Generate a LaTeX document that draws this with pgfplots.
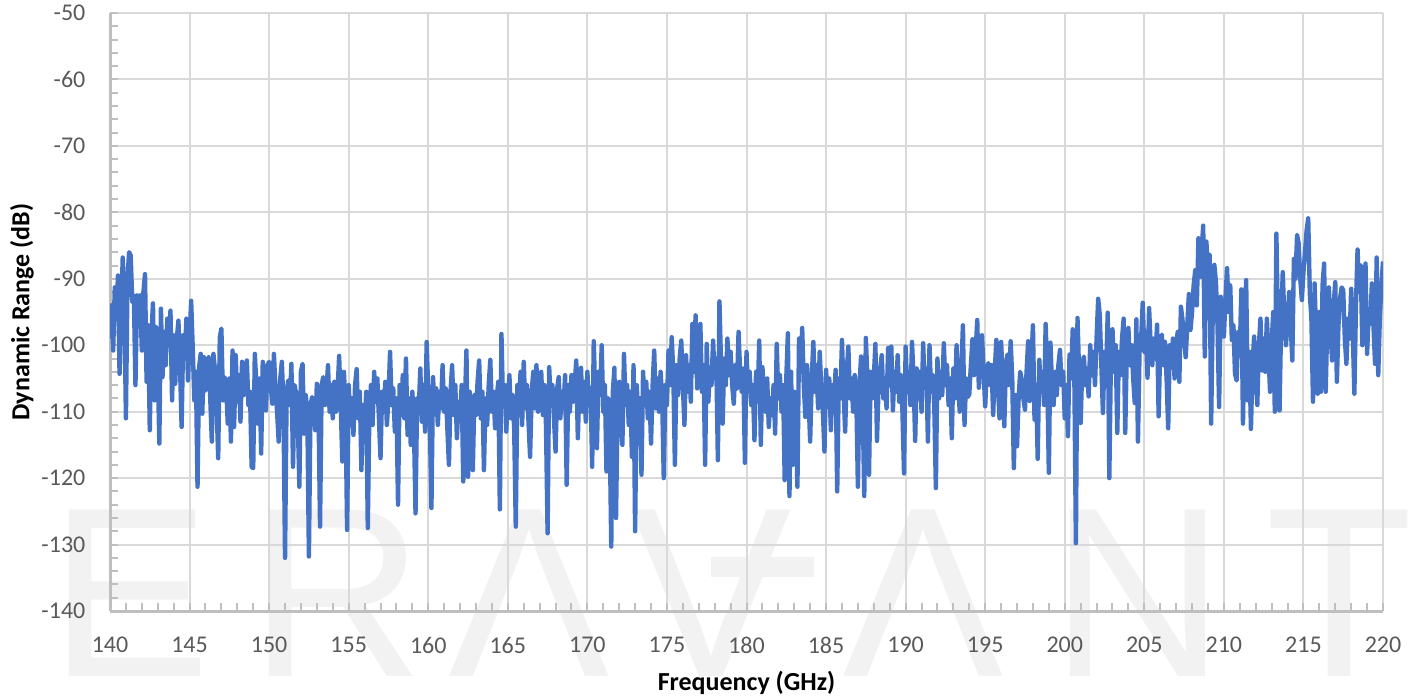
\documentclass[border=0pt]{standalone}
\usepackage{fontspec}
\setmainfont{Carlito}
\newfontfamily\wmfont{Liberation Sans}
\usepackage{pgfplots}
\pgfplotsset{compat=1.18}
\definecolor{lineblue}{HTML}{4472C4}
\definecolor{gridgray}{HTML}{D9D9D9}
\definecolor{axgray}{HTML}{BFBFBF}
\definecolor{ticktext}{HTML}{595959}
\definecolor{wm}{HTML}{F2F2F2}
\begin{document}
\begin{tikzpicture}
\begin{axis}[
  set layers, clip mode=individual,
  scale only axis, width=636.5pt, height=299pt,
  xmin=140, xmax=220, ymin=-140, ymax=-50,
  xtick={140,145,...,220}, ytick={-140,-130,...,-50},
  minor x tick num=4, minor y tick num=4,
  grid=major, major grid style={gridgray, line width=1pt},
  axis lines=left, axis line style={axgray, line width=1.5pt, -},
  tick align=inside, major tick length=4pt, minor tick length=4pt,
  every tick/.style={axgray, line width=1pt},
  /pgf/number format/assume math mode=true,
  ticklabel style={font=\fontsize{12}{14}\selectfont, text=ticktext},
  xticklabel style={yshift=-9.5pt},
  yticklabel style={xshift=-8.8pt},
  xlabel={Frequency (GHz)}, ylabel={Dynamic Range (dB)},
  label style={font=\bfseries\fontsize{13}{15}\selectfont, text=black},
  xlabel style={at={(axis description cs:0.5,-0.1204)}, anchor=center},
  ylabel style={at={(axis description cs:-0.0691,0.5)}, anchor=center, rotate=0},
]
\coordinate (sw) at (axis cs:140,-140);
\begin{pgfonlayer}{axis background}
\begin{scope}[every node/.style={anchor=base west, inner sep=0pt, text=wm, font=\wmfont\fontsize{121}{121}\selectfont}]
\node at (axis cs:136.15,-149.93) {E};
\node at (axis cs:148.74,-149.93) {R};
\node at (axis cs:161.24,-149.93) {Λ};
\node at (axis cs:172.68,-149.93) {V};
\fill[wm] (axis cs:177.77,-134.88) rectangle (axis cs:184.24,-131.87);
\node at (axis cs:186.0,-149.93) {Λ};
\node at (axis cs:199.07,-149.93) {N};
\node at (axis cs:212.6,-149.93) {T};
\end{scope}
\end{pgfonlayer}
\addplot[lineblue, line width=2.2pt, line join=round, no markers] coordinates {
(140.0,-99) (140.1,-94) (140.2,-100.8) (140.3,-91.3) (140.4,-96) (140.5,-89.5) (140.6,-104.3) (140.7,-95) (140.8,-86.8) (140.9,-93)
(141.0,-111) (141.1,-90) (141.2,-86) (141.3,-86.5) (141.4,-93.5) (141.5,-92.5) (141.6,-106) (141.7,-92.5) (141.8,-96.5) (141.9,-92.5)
(142.0,-100.8) (142.1,-92) (142.2,-89.3) (142.3,-105.5) (142.4,-97) (142.5,-112.8) (142.6,-98.5) (142.7,-93.7) (142.8,-108.3) (142.9,-97.3)
(143.0,-103) (143.1,-114.8) (143.2,-94.5) (143.3,-104.8) (143.4,-98) (143.5,-103) (143.6,-96) (143.7,-100) (143.8,-94.8) (143.9,-108.3)
(144.0,-98.5) (144.1,-105.8) (144.2,-99) (144.3,-96.3) (144.4,-103) (144.5,-112.3) (144.6,-98.5) (144.7,-102) (144.8,-96) (144.9,-105.3)
(145.0,-99) (145.1,-93.3) (145.2,-100.5) (145.3,-108.3) (145.4,-104) (145.5,-121.3) (145.6,-103.3) (145.7,-101.3) (145.8,-110.3) (145.9,-101.8)
(146.0,-106.8) (146.1,-104) (146.2,-101.8) (146.3,-108) (146.4,-114.5) (146.5,-101.3) (146.6,-103.8) (146.7,-109) (146.8,-117) (146.9,-98.8)
(147.0,-97.5) (147.1,-108.3) (147.2,-104.8) (147.3,-106) (147.4,-111.8) (147.5,-105) (147.6,-114.5) (147.7,-100.8) (147.8,-112.3) (147.9,-101.5)
(148.0,-108.5) (148.1,-104.5) (148.2,-111.5) (148.3,-102.5) (148.4,-107.5) (148.5,-104) (148.6,-102.3) (148.7,-109) (148.8,-107) (148.9,-118.3)
(149.0,-118.5) (149.1,-101.3) (149.2,-106) (149.3,-111.8) (149.4,-105) (149.5,-116.3) (149.6,-102.5) (149.7,-107) (149.8,-109.8) (149.9,-103)
(150.0,-102.5) (150.1,-106) (150.2,-108.8) (150.3,-101.3) (150.4,-106.5) (150.5,-110) (150.6,-114.5) (150.7,-105) (150.8,-102.5) (150.9,-109)
(151.0,-132) (151.1,-107) (151.2,-105.3) (151.3,-109) (151.4,-102.8) (151.5,-118.3) (151.6,-106) (151.7,-107.3) (151.8,-111) (151.9,-121.3)
(152.0,-104) (152.1,-102.8) (152.2,-113.3) (152.3,-107.5) (152.4,-110) (152.5,-131.8) (152.6,-109) (152.7,-107.8) (152.8,-110) (152.9,-112.8)
(153.0,-105.8) (153.1,-109) (153.2,-127.3) (153.3,-106) (153.4,-104.8) (153.5,-109) (153.6,-107) (153.7,-103) (153.8,-110) (153.9,-106)
(154.0,-111) (154.1,-105.5) (154.2,-110) (154.3,-107) (154.4,-101.6) (154.5,-109) (154.6,-117.5) (154.7,-104) (154.8,-109) (154.9,-127.8)
(155.0,-106) (155.1,-112) (155.2,-108) (155.3,-113.5) (155.4,-106) (155.5,-103.6) (155.6,-111) (155.7,-107) (155.8,-118.8) (155.9,-109)
(156.0,-113) (156.1,-107) (156.2,-127.5) (156.3,-110) (156.4,-106) (156.5,-112) (156.6,-104) (156.7,-108.5) (156.8,-105) (156.9,-111)
(157.0,-117) (157.1,-107) (157.2,-110) (157.3,-105.5) (157.4,-112) (157.5,-108) (157.6,-101) (157.7,-109) (157.8,-106.5) (157.9,-113)
(158.0,-108) (158.1,-124) (158.2,-106) (158.3,-110.5) (158.4,-104.5) (158.5,-111) (158.6,-102) (158.7,-113.5) (158.8,-108) (158.9,-115)
(159.0,-107) (159.1,-112) (159.2,-125.3) (159.3,-108) (159.4,-110) (159.5,-103.5) (159.6,-111.5) (159.7,-106) (159.8,-113) (159.9,-99.5)
(160.0,-107) (160.1,-111.5) (160.2,-124.5) (160.3,-104.8) (160.4,-110) (160.5,-106.5) (160.6,-112) (160.7,-107) (160.8,-109.5) (160.9,-103)
(161.0,-110) (161.1,-106.5) (161.2,-112.5) (161.3,-118) (161.4,-107) (161.5,-103) (161.6,-110.5) (161.7,-106) (161.8,-114) (161.9,-108.5)
(162.0,-111) (162.1,-106) (162.2,-120.5) (162.3,-109) (162.4,-100.8) (162.5,-119.8) (162.6,-107) (162.7,-112) (162.8,-118.8) (162.9,-107.5)
(163.0,-110.5) (163.1,-105.5) (163.2,-102.3) (163.3,-111) (163.4,-107) (163.5,-118.8) (163.6,-108) (163.7,-112) (163.8,-106) (163.9,-102.2)
(164.0,-110) (164.1,-107) (164.2,-112.5) (164.3,-108) (164.4,-105.5) (164.5,-124.7) (164.6,-98.3) (164.7,-109) (164.8,-106) (164.9,-113)
(165.0,-108) (165.1,-104.5) (165.2,-111) (165.3,-107.5) (165.4,-112.5) (165.5,-127.3) (165.6,-106) (165.7,-110.5) (165.8,-104) (165.9,-112)
(166.0,-102.5) (166.1,-109.5) (166.2,-106) (166.3,-111.5) (166.4,-116.8) (166.5,-107) (166.6,-104) (166.7,-109.5) (166.8,-103) (166.9,-110)
(167.0,-108) (167.1,-104) (167.2,-110.5) (167.3,-106) (167.4,-112) (167.5,-128.3) (167.6,-103.3) (167.7,-109) (167.8,-106) (167.9,-111)
(168.0,-116) (168.1,-106.5) (168.2,-104.8) (168.3,-111) (168.4,-107) (168.5,-109.5) (168.6,-104.5) (168.7,-121) (168.8,-106) (168.9,-110)
(169.0,-104.5) (169.1,-108.5) (169.2,-106) (169.3,-102.3) (169.4,-114) (169.5,-106) (169.6,-103.4) (169.7,-110) (169.8,-105.5) (169.9,-111.5)
(170.0,-104) (170.1,-109) (170.2,-106.5) (170.3,-118.3) (170.4,-99.4) (170.5,-108) (170.6,-115.5) (170.7,-104) (170.8,-107.5) (170.9,-100)
(171.0,-110) (171.1,-106) (171.2,-119) (171.3,-108) (171.4,-112) (171.5,-130.3) (171.6,-107) (171.7,-103.4) (171.8,-126) (171.9,-109)
(172.0,-105.5) (172.1,-111) (172.2,-115) (172.3,-101.3) (172.4,-109) (172.5,-106) (172.6,-112) (172.7,-107) (172.8,-116.8) (172.9,-103)
(173.0,-128) (173.1,-106) (173.2,-110.5) (173.3,-108) (173.4,-119.5) (173.5,-104) (173.6,-109) (173.7,-105.5) (173.8,-111) (173.9,-107)
(174.0,-114.8) (174.1,-106) (174.2,-100.8) (174.3,-109.5) (174.4,-105) (174.5,-110) (174.6,-104) (174.7,-108) (174.8,-120) (174.9,-106)
(175.0,-109) (175.1,-100.8) (175.2,-106) (175.3,-98.8) (175.4,-104) (175.5,-118) (175.6,-103) (175.7,-107.5) (175.8,-102) (175.9,-99.3)
(176.0,-106) (176.1,-112) (176.2,-101.5) (176.3,-107) (176.4,-103) (176.5,-108.5) (176.6,-96.8) (176.7,-104) (176.8,-95.5) (176.9,-106.5)
(177.0,-102) (177.1,-96.8) (177.2,-107) (177.3,-103) (177.4,-118) (177.5,-99.8) (177.6,-108.5) (177.7,-104) (177.8,-106) (177.9,-99.3)
(178.0,-105) (178.1,-102) (178.2,-117.3) (178.3,-93.4) (178.4,-103) (178.5,-111.8) (178.6,-102) (178.7,-106) (178.8,-99) (178.9,-104.5)
(179.0,-101) (179.1,-106) (179.2,-108.8) (179.3,-103) (179.4,-106.5) (179.5,-98) (179.6,-104) (179.7,-107) (179.8,-103.5) (179.9,-117.7)
(180.0,-101) (180.1,-107) (180.2,-104) (180.3,-109) (180.4,-106) (180.5,-114.3) (180.6,-104) (180.7,-108) (180.8,-99.3) (180.9,-115)
(181.0,-103.3) (181.1,-107) (181.2,-110) (181.3,-105) (181.4,-112.3) (181.5,-108) (181.6,-110.5) (181.7,-106) (181.8,-113.3) (181.9,-99.8)
(182.0,-108) (182.1,-104.5) (182.2,-110) (182.3,-106) (182.4,-120.3) (182.5,-105) (182.6,-98.2) (182.7,-122.7) (182.8,-104) (182.9,-118)
(183.0,-107) (183.1,-111) (183.2,-121.3) (183.3,-99) (183.4,-104) (183.5,-97.4) (183.6,-106) (183.7,-110.8) (183.8,-103) (183.9,-108)
(184.0,-114.5) (184.1,-105) (184.2,-99.5) (184.3,-107) (184.4,-103) (184.5,-109.5) (184.6,-101) (184.7,-106.5) (184.8,-110) (184.9,-116)
(185.0,-103.7) (185.1,-108) (185.2,-105) (185.3,-112.8) (185.4,-106) (185.5,-109) (185.6,-103.7) (185.7,-122) (185.8,-105) (185.9,-108)
(186.0,-99.2) (186.1,-107) (186.2,-113) (186.3,-104) (186.4,-100.2) (186.5,-108) (186.6,-105) (186.7,-110) (186.8,-104.5) (186.9,-107.5)
(187.0,-121.3) (187.1,-106) (187.2,-101.7) (187.3,-109) (187.4,-122.7) (187.5,-98.9) (187.6,-105) (187.7,-119.5) (187.8,-104) (187.9,-108)
(188.0,-105) (188.1,-99.8) (188.2,-114.4) (188.3,-106) (188.4,-103.5) (188.5,-101.5) (188.6,-108) (188.7,-105) (188.8,-109.5) (188.9,-100.4)
(189.0,-106) (189.1,-100.2) (189.2,-109.8) (189.3,-104) (189.4,-107) (189.5,-101.5) (189.6,-108.5) (189.7,-104.5) (189.8,-110) (189.9,-119.3)
(190.0,-100.2) (190.1,-107) (190.2,-104) (190.3,-109) (190.4,-99.5) (190.5,-105) (190.6,-114.4) (190.7,-103.5) (190.8,-108) (190.9,-104)
(191.0,-110) (191.1,-99.7) (191.2,-106) (191.3,-103.5) (191.4,-114.5) (191.5,-100) (191.6,-107) (191.7,-104.5) (191.8,-109) (191.9,-121.5)
(192.0,-102) (192.1,-108) (192.2,-104) (192.3,-107.5) (192.4,-99.7) (192.5,-106) (192.6,-103) (192.7,-109) (192.8,-105) (192.9,-114)
(193.0,-103.5) (193.1,-108) (193.2,-100) (193.3,-106) (193.4,-110) (193.5,-104) (193.6,-97) (193.7,-112) (193.8,-105) (193.9,-107.8)
(194.0,-107.4) (194.1,-103) (194.2,-99.1) (194.3,-104.5) (194.4,-101) (194.5,-96.2) (194.6,-106.4) (194.7,-102) (194.8,-98.5) (194.9,-104)
(195.0,-109.2) (195.1,-103.5) (195.2,-102.7) (195.3,-106) (195.4,-103) (195.5,-110.5) (195.6,-104) (195.7,-99.2) (195.8,-106) (195.9,-111)
(196.0,-99.5) (196.1,-105) (196.2,-112.2) (196.3,-103) (196.4,-101.4) (196.5,-106) (196.6,-99.4) (196.7,-105) (196.8,-118.5) (196.9,-107.5)
(197.0,-115.2) (197.1,-108) (197.2,-104) (197.3,-105.2) (197.4,-108) (197.5,-109.7) (197.6,-104) (197.7,-99.4) (197.8,-108.4) (197.9,-103)
(198.0,-97) (198.1,-111.2) (198.2,-106) (198.3,-117.1) (198.4,-102.2) (198.5,-107) (198.6,-104) (198.7,-109) (198.8,-96.8) (198.9,-105)
(199.0,-119.2) (199.1,-99.6) (199.2,-106) (199.3,-109) (199.4,-104) (199.5,-107.5) (199.6,-103) (199.7,-100.7) (199.8,-106) (199.9,-104)
(200.0,-111) (200.1,-106) (200.2,-113.7) (200.3,-101.4) (200.4,-105) (200.5,-97.6) (200.6,-104) (200.7,-129.8) (200.8,-95.9) (200.9,-104)
(201.0,-111.7) (201.1,-103) (201.2,-101.7) (201.3,-106) (201.4,-103.5) (201.5,-107.7) (201.6,-100) (201.7,-104.5) (201.8,-101) (201.9,-106)
(202.0,-99) (202.1,-93) (202.2,-95.4) (202.3,-103) (202.4,-110.2) (202.5,-101) (202.6,-104) (202.7,-95.1) (202.8,-120) (202.9,-102)
(203.0,-97.6) (203.1,-104) (203.2,-100) (203.3,-113.2) (203.4,-101) (203.5,-104.5) (203.6,-99) (203.7,-96) (203.8,-113.2) (203.9,-101)
(204.0,-97.4) (204.1,-103) (204.2,-100) (204.3,-105) (204.4,-108.7) (204.5,-96.1) (204.6,-114.5) (204.7,-101) (204.8,-99) (204.9,-93.6)
(205.0,-101) (205.1,-98) (205.2,-104.9) (205.3,-94.4) (205.4,-100) (205.5,-103) (205.6,-99) (205.7,-102) (205.8,-96.9) (205.9,-110.7)
(206.0,-100) (206.1,-98.4) (206.2,-103) (206.3,-99.5) (206.4,-105) (206.5,-112.5) (206.6,-100) (206.7,-103) (206.8,-99) (206.9,-105)
(207.0,-100) (207.1,-98) (207.2,-105.5) (207.3,-94.2) (207.4,-96.2) (207.5,-99) (207.6,-101.8) (207.7,-97) (207.8,-92.3) (207.9,-97.7)
(208.0,-95) (208.1,-91) (208.2,-88.7) (208.3,-94) (208.4,-83.9) (208.5,-89.7) (208.6,-86) (208.7,-82) (208.8,-101.7) (208.9,-84.4)
(209.0,-89) (209.1,-86.4) (209.2,-111.8) (209.3,-95) (209.4,-87.9) (209.5,-90.5) (209.6,-97) (209.7,-109.3) (209.8,-92.7) (209.9,-96)
(210.0,-98.7) (210.1,-93) (210.2,-88.4) (210.3,-95) (210.4,-91) (210.5,-99.2) (210.6,-97) (210.7,-104.3) (210.8,-105.3) (210.9,-98)
(211.0,-101) (211.1,-91.6) (211.2,-111.8) (211.3,-97) (211.4,-90.2) (211.5,-108.3) (211.6,-101) (211.7,-112.6) (211.8,-103) (211.9,-98.7)
(212.0,-105) (212.1,-109) (212.2,-100) (212.3,-96) (212.4,-103.8) (212.5,-99) (212.6,-104) (212.7,-96) (212.8,-101) (212.9,-107)
(213.0,-100) (213.1,-95) (213.2,-110) (213.3,-83.2) (213.4,-98) (213.5,-109.8) (213.6,-96) (213.7,-89) (213.8,-96) (213.9,-100)
(214.0,-96.7) (214.1,-92) (214.2,-97) (214.3,-102.3) (214.4,-87) (214.5,-90) (214.6,-83.4) (214.7,-84.7) (214.8,-90) (214.9,-93.2)
(215.0,-89) (215.1,-86) (215.2,-82.7) (215.3,-80.9) (215.4,-92.2) (215.5,-96) (215.6,-108.5) (215.7,-90.7) (215.8,-99) (215.9,-107.3)
(216.0,-95) (216.1,-107) (216.2,-91) (216.3,-87.7) (216.4,-107) (216.5,-96) (216.6,-91.3) (216.7,-98) (216.8,-102.3) (216.9,-94)
(217.0,-90.5) (217.1,-105.5) (217.2,-97) (217.3,-93) (217.4,-91.3) (217.5,-91.7) (217.6,-99) (217.7,-102.8) (217.8,-96) (217.9,-99)
(218.0,-91.5) (218.1,-98) (218.2,-107.3) (218.3,-94) (218.4,-85.6) (218.5,-92) (218.6,-88) (218.7,-100) (218.8,-94) (218.9,-87.7)
(219.0,-101.3) (219.1,-95) (219.2,-96.8) (219.3,-90.7) (219.4,-97) (219.5,-102.8) (219.6,-86.8) (219.7,-104.5) (219.8,-96) (219.9,-91)
(220.0,-87.4)
};
\end{axis}
\pgfresetboundingbox
\path[use as bounding box] (sw) ++(-55pt,-43.5pt) rectangle ++(709.5pt,349pt);
\end{tikzpicture}
\end{document}
